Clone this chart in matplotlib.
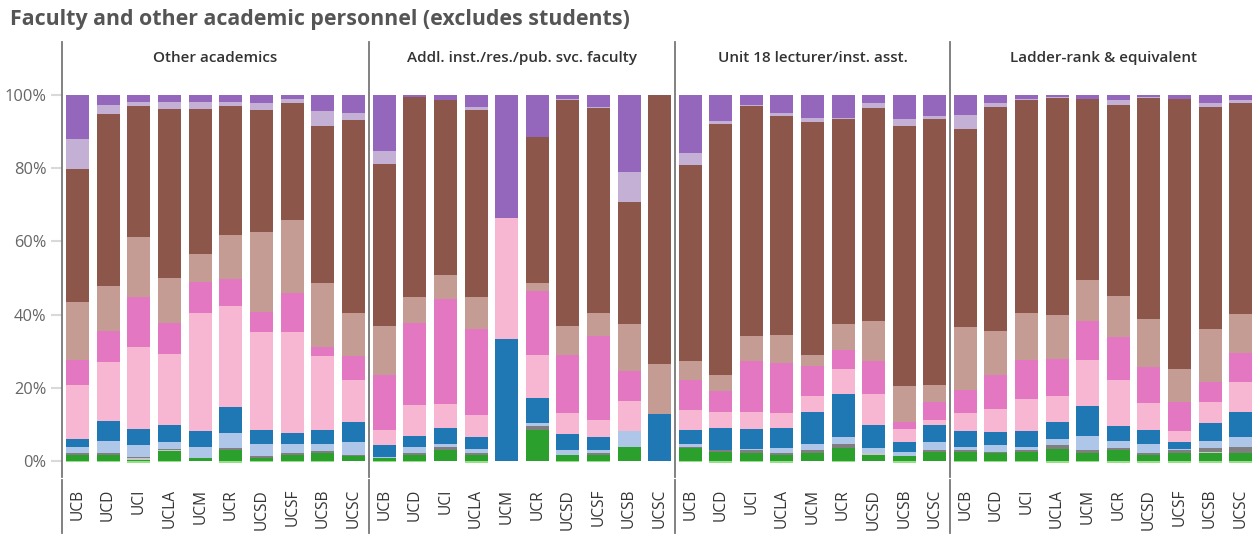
import matplotlib.pyplot as plt
import numpy as np
from matplotlib.lines import Line2D

plt.rcParams['font.family'] = ['Open Sans', 'DejaVu Sans']

panel_titles = ["Other academics", "Addl. inst./res./pub. svc. faculty",
                "Unit 18 lecturer/inst. asst.", "Ladder-rank & equivalent"]
campuses = ["UCB", "UCD", "UCI", "UCLA", "UCM", "UCR", "UCSD", "UCSF", "UCSB", "UCSC"]
unit18_campuses = ["UCB", "UCD", "UCI", "UCLA", "UCM", "UCR", "UCSD", "UCSB", "UCSC"]
panel_campuses = [campuses, campuses, unit18_campuses, campuses]

# share of headcount (%), one value per bar, panels left to right
purple = [12.0, 2.7, 1.9, 1.9, 1.9, 1.9, 2.2, 1.1, 4.4, 4.9,
          15.3, 0.5, 1.4, 3.3, 33.6, 11.5, 1.1, 3.3, 21.0, 0,
          15.8, 7.1, 2.7, 4.9, 6.3, 6.3, 2.2, 6.6, 5.7,
          5.5, 2.2, 1.1, 0.5, 1.1, 1.4, 0.5, 1.1, 2.2, 1.4]
light_purple = [8.2, 2.4, 1.1, 1.9, 1.9, 1.1, 1.9, 1.1, 4.1, 1.9,
                3.6, 0, 0, 0.8, 0, 0, 0.3, 0.3, 8.2, 0,
                3.3, 0.8, 0.3, 0.8, 1.1, 0.3, 1.4, 1.9, 0.9,
                3.8, 1.1, 0.3, 0.3, 0, 1.3, 0.3, 0, 1.1, 0.8]
brown = [36.4, 47.1, 35.8, 46.2, 39.6, 35.3, 33.3, 32.0, 42.9, 52.8,
         44.2, 54.7, 47.8, 51.1, 0, 39.9, 61.7, 56.0, 33.4, 73.5,
         53.6, 68.6, 62.8, 59.9, 63.6, 56.0, 58.1, 71.0, 72.6,
         54.1, 61.2, 58.2, 59.3, 49.4, 52.2, 60.4, 73.8, 60.6, 57.6]
light_brown = [15.7, 12.3, 16.4, 12.3, 7.7, 12.0, 21.9, 19.9, 17.5, 11.7,
               13.4, 7.1, 6.5, 8.7, 0, 2.2, 7.9, 6.2, 12.8, 13.7,
               5.2, 4.4, 6.9, 7.6, 3.0, 7.1, 11.0, 9.8, 4.7,
               17.2, 12.0, 12.8, 12.0, 11.2, 11.2, 13.1, 9.0, 14.5, 10.7]
pink = [6.9, 8.5, 13.7, 8.5, 8.5, 7.4, 5.5, 10.7, 2.4, 6.6,
        15.0, 22.4, 28.7, 23.5, 0, 17.4, 15.9, 23.0, 8.2, 0,
        8.2, 5.7, 13.9, 13.7, 8.2, 5.2, 9.0, 2.0, 4.9,
        6.3, 9.3, 10.7, 10.1, 10.7, 11.8, 9.9, 7.9, 5.5, 7.9]
light_pink = [14.8, 16.1, 22.4, 19.4, 32.2, 27.5, 26.7, 27.5, 20.2, 11.4,
              4.1, 8.5, 6.6, 6.0, 33.1, 11.8, 5.7, 4.6, 8.2, 0,
              5.4, 4.4, 4.7, 4.1, 4.4, 6.8, 8.5, 3.5, 1.4,
              4.9, 6.3, 8.7, 7.1, 12.6, 12.5, 7.3, 3.0, 5.7, 8.2]
blue = [2.2, 5.4, 4.3, 4.6, 4.4, 7.1, 3.9, 3.1, 3.9, 5.5,
        3.3, 3.0, 4.4, 3.3, 33.3, 6.8, 4.4, 3.6, 0, 12.8,
        3.9, 6.0, 5.4, 5.4, 8.8, 11.7, 6.2, 2.7, 4.6,
        4.4, 3.5, 4.4, 4.7, 8.2, 4.1, 3.9, 1.9, 4.9, 6.8]
light_blue = [1.6, 3.3, 3.3, 1.9, 3.0, 4.1, 3.2, 2.4, 1.9, 3.6,
              0.3, 1.6, 0.8, 1.1, 0, 0.8, 1.4, 0.8, 4.4, 0,
              0.8, 0, 0.3, 1.4, 1.6, 2.0, 1.4, 1.1, 2.2,
              0.8, 1.9, 0.8, 1.6, 3.8, 1.9, 2.4, 0.3, 1.9, 2.8]
gray = [0.6, 0.6, 0.3, 0.4, 0, 0.6, 0.6, 0.6, 0.5, 0.2,
        0, 0.6, 0.8, 0.6, 0, 1.1, 0, 0.6, 0, 0,
        0.2, 0.5, 0.8, 0.6, 0.8, 1.0, 0, 0, 0.5,
        0.5, 0.3, 0.5, 1.1, 0.8, 0.6, 0.6, 0.8, 1.1, 1.6]
light_gray = [0, 0, 0.5, 0.3, 0, 0, 0, 0, 0, 0,
              0, 0, 0, 0, 0, 0, 0, 0, 0, 0,
              0, 0, 0, 0, 0, 0, 0.6, 0, 0,
              0, 0, 0, 0, 0, 0, 0, 0, 0.3, 0]
green = [1.6, 1.6, 0.3, 2.6, 0.8, 3.0, 0.8, 1.6, 2.2, 1.4,
         0.8, 1.6, 3.0, 1.6, 0, 8.5, 1.6, 1.6, 3.8, 0,
         3.6, 2.5, 2.2, 1.6, 2.2, 3.6, 1.6, 1.4, 2.5,
         2.5, 2.2, 2.5, 3.3, 2.2, 3.0, 1.6, 2.2, 2.2, 2.2]
light_green = [0.4, 0.3, 0.5, 0.3, 0, 0.6, 0.3, 0.3, 0.3, 0,
               0.3, 0.3, 0, 0.5, 0, 0, 0.4, 0.4, 0, 0,
               0.3, 0.5, 0.3, 0.5, 0, 0.3, 0, 0.5, 0,
               0.3, 0.3, 0.4, 0.5, 0.3, 0.5, 0.5, 0.5, 0.5, 0.5]

# bottom -> top
series = [
    (light_green, "#98df8a"), (green, "#2ca02c"), (light_gray, "#c7c7c7"),
    (gray, "#7f7f7f"), (light_blue, "#aec7e8"), (blue, "#1f77b4"),
    (light_pink, "#f7b6d2"), (pink, "#e377c2"), (light_brown, "#c49c94"),
    (brown, "#8c564b"), (light_purple, "#c5b0d5"), (purple, "#9467bd"),
]

W, H = 1256, 535
fig = plt.figure(figsize=(W / 100, H / 100), dpi=100)


def fx(x):
    return x / W


def fy(y):
    return 1 - y / H


# pixel layout of the panes
edges = [62, 369, 675, 950, 1256]
y_top, y_bottom = 42, 535
y_zero, y_full = 461, 95
ppu = (y_zero - y_full) / 100.0
ylim = ((y_zero - y_bottom) / ppu, (y_zero - y_top) / ppu)

start = 0
for i, (title, labels) in enumerate(zip(panel_titles, panel_campuses)):
    n = len(labels)
    ax = fig.add_axes([fx(edges[i]), fy(y_bottom), fx(edges[i + 1] - edges[i]),
                       (y_bottom - y_top) / H])
    x = np.arange(n) + 0.5
    sl = slice(start, start + n)
    # the thin light green slice hangs just below the zero line
    bottom = -np.array(light_green[sl])
    for vals, color in series:
        v = np.array(vals[sl])
        ax.bar(x, v, 0.75, bottom=bottom, color=color, linewidth=0)
        bottom = bottom + v
    start += n

    ax.set_xlim(0, n)
    ax.set_ylim(*ylim)
    for s in ax.spines.values():
        s.set_visible(False)
    ax.set_xticks([])
    if i == 0:
        ticks = list(range(0, 101, 20))
        ax.set_yticks(ticks)
        ax.set_yticklabels([f"{t}%" for t in ticks])
        ax.tick_params(axis="y", length=8, width=1.5, color="#d9d9d9",
                       labelcolor="#666666", labelsize=11.8, pad=3)
    else:
        ax.set_yticks([])

    ax.text(n / 2, (y_zero - 58) / ppu, title, ha="center", va="center",
            fontsize=11, fontweight="semibold", color="#333333")
    for xi, lab in zip(x, labels):
        ax.text(xi, (y_zero - 489) / ppu, lab, rotation=90, ha="center",
                va="top", fontsize=11.2, color="#333333")

# pane dividers
for e in edges[:-1]:
    fig.add_artist(Line2D([fx(e), fx(e)], [fy(42), fy(477)], color="#777777", lw=1.3))
    fig.add_artist(Line2D([fx(e), fx(e)], [fy(480), fy(533)], color="#777777", lw=1.3))

fig.text(fx(10), fy(19), "Faculty and other academic personnel (excludes students)",
         ha="left", va="center", fontsize=15.4, fontweight="bold", color="#555555")

fig.savefig("out.png", dpi=100)
